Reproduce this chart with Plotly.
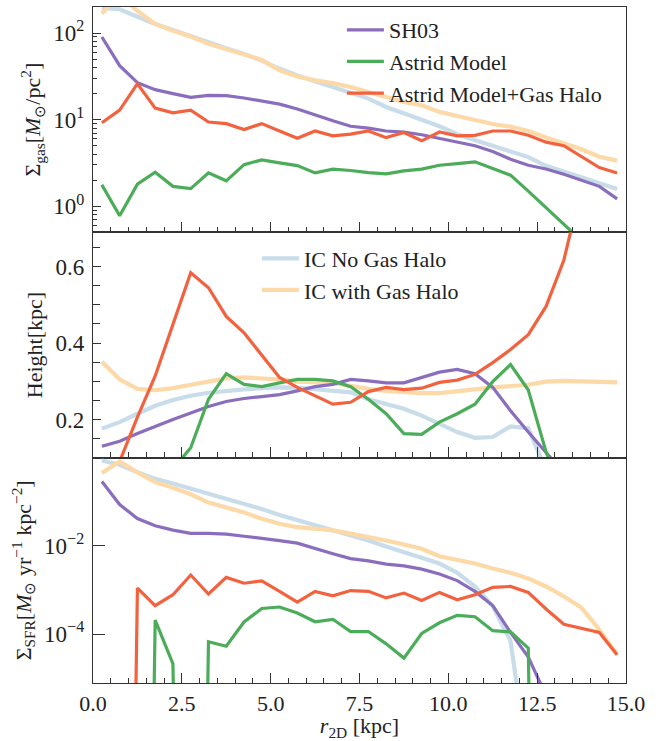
import plotly.graph_objects as go
from plotly.subplots import make_subplots

# ---------------- data ----------------
r2d = [0.25, 0.75, 1.25, 1.75, 2.25, 2.75, 3.25, 3.75, 4.25, 4.75,
       5.25, 5.75, 6.25, 6.75, 7.25, 7.75, 8.25, 8.75, 9.25, 9.75,
       10.25, 10.75, 11.25, 11.75, 12.25, 12.75, 13.25, 13.75, 14.25, 14.75]

# Sigma_gas [Msun/pc^2]
gas_sh03 = [90, 42, 26.7, 22.2, 20, 18.1, 19.1, 18.9, 17.8, 16.4, 15.1, 13.3, 11.3, 9.7,
            8.4, 8.0, 7.4, 7.2, 6.7, 6.1, 5.5, 5.0, 4.3, 3.5, 2.98, 2.7, 2.35, 2.0, 1.7, 1.22]
gas_astrid = [1.77, 0.78, 1.8, 2.48, 1.7, 1.6, 2.43, 1.97, 3.03, 3.43, 3.17, 2.95, 2.43, 2.69,
              2.59, 2.45, 2.37, 2.57, 2.69, 2.98, 3.11, 3.26, 2.73, 2.29, 1.5, 0.97, 0.62, 0.4, 0.3, 0.2]
gas_astrid_halo = [9.2, 12.9, 26, 13.6, 12, 12.9, 9.4, 9.0, 7.7, 9.0, 7.4, 6.1, 7.4, 6.5,
                   6.8, 7.4, 6.2, 7.1, 5.7, 7.2, 6.5, 6.6, 7.4, 7.4, 6.6, 5.5, 5.0, 3.7, 2.8, 2.43]
gas_ic_nohalo = [195, 188, 154, 127, 108, 93, 78, 66.5, 57.4, 48, 38.6, 32.4, 27.8, 23.4,
                 20.5, 17.5, 14, 12, 10, 8.4, 6.8, 5.8, 5.0, 4.3, 3.7, 2.93, 2.5, 2.17, 1.85, 1.58]
gas_ic_halo = [168, 270, 180, 127, 106, 91, 75, 65.6, 57, 49, 37, 31.5, 28.4, 26.4,
               23.8, 20.8, 18.6, 16, 14.7, 12.3, 11, 9.9, 8.9, 8.3, 7.4, 6.25, 5.4, 4.55, 3.74, 3.37]

# Height [kpc]
h_sh03 = [0.130, 0.143, 0.163, 0.182, 0.200, 0.217, 0.234, 0.247, 0.255, 0.260, 0.265, 0.275, 0.286, 0.292,
          0.305, 0.301, 0.296, 0.296, 0.310, 0.324, 0.331, 0.320, 0.284, 0.223, 0.167, 0.111, 0.06, 0.05, 0.04, 0.03]
h_astrid = [0, 0, 0, 0, 0.07, 0.126, 0.253, 0.320, 0.292, 0.286, 0.296, 0.305, 0.305, 0.301,
            0.286, 0.253, 0.215, 0.163, 0.161, 0.193, 0.215, 0.240, 0.299, 0.344, 0.277, 0.115, 0, 0, 0, 0]
h_astrid_halo = [0.05, 0.09, 0.206, 0.314, 0.449, 0.584, 0.545, 0.470, 0.427, 0.370, 0.310, 0.284, 0.262, 0.240,
                 0.245, 0.273, 0.284, 0.278, 0.282, 0.297, 0.303, 0.318, 0.349, 0.383, 0.422, 0.496, 0.617, 0.80, 1.0, 1.2]
h_ic_nohalo = [0.176, 0.193, 0.215, 0.236, 0.251, 0.262, 0.270, 0.275, 0.279, 0.282, 0.284, 0.283, 0.279, 0.273,
               0.271, 0.253, 0.240, 0.228, 0.210, 0.189, 0.167, 0.152, 0.154, 0.182, 0.177, 0.067, 0.06, 0.05, 0.05, 0.05]
h_ic_halo = [0.351, 0.305, 0.280, 0.277, 0.282, 0.291, 0.299, 0.308, 0.310, 0.308, 0.305, 0.299, 0.297, 0.296,
             0.288, 0.280, 0.275, 0.271, 0.269, 0.269, 0.273, 0.279, 0.284, 0.287, 0.291, 0.299, 0.301, 0.300, 0.299, 0.297]

# Sigma_SFR [Msun/yr/kpc^2]  (0 = no star formation)
sfr_sh03 = [0.288, 0.0865, 0.0415, 0.0285, 0.0228, 0.0192, 0.0192, 0.0185, 0.0165, 0.0149, 0.0132, 0.0115, 0.00858, 0.00662,
            0.00513, 0.00456, 0.00385, 0.00352, 0.00297, 0.0023, 0.00163, 0.000927, 0.000444, 0.000109, 3.0e-5, 4e-6, 0, 0, 0, 0]
sfr_astrid = [0, 0, 0, 2.08e-4, 2.1e-5, 0, 6.7e-5, 5.3e-5, 1.88e-4, 3.8e-4, 4.1e-4, 3.0e-4, 1.9e-4, 2.16e-4,
              1.14e-4, 1.14e-4, 6.0e-5, 2.85e-5, 1.03e-4, 1.8e-4, 2.65e-4, 2.47e-4, 1.19e-4, 1.12e-4, 4.8e-5, 0, 0, 0, 0, 0]
sfr_astrid_halo = [0, 0, 0.0011, 4.4e-4, 7.8e-4, 0.00218, 8.1e-4, 0.00193, 0.00142, 0.0016, 9.3e-4, 5.3e-4, 9.3e-4, 7.4e-4,
                   9.7e-4, 9.3e-4, 6.6e-4, 8.5e-4, 5.8e-4, 8.8e-4, 6.0e-4, 7.8e-4, 0.00115, 0.0012, 8.8e-4, 3.7e-4, 1.67e-4, 1.33e-4, 1.09e-4, 3.4e-5]
sfr_ic_nohalo = [0.861, 0.69, 0.465, 0.33, 0.26, 0.201, 0.148, 0.114, 0.0883, 0.0684, 0.0502, 0.0388, 0.030, 0.0224,
                 0.0176, 0.0132, 0.0097, 0.00723, 0.0056, 0.00397, 0.00246, 0.0012, 0.000428, 7e-5, 1e-7, 0, 0, 0, 0, 0]
sfr_ic_halo = [0.449, 0.818, 0.465, 0.278, 0.207, 0.148, 0.096, 0.0743, 0.0574, 0.041, 0.0316, 0.0265, 0.0244, 0.0224,
               0.019, 0.0162, 0.0132, 0.0107, 0.00858, 0.0058, 0.00488, 0.00397, 0.00307, 0.00246, 0.00183, 0.0012, 0.000716, 0.000393, 0.000125, 3.4e-5]

# ---------------- styling ----------------
FONT = "Liberation Serif"
C_SH03 = "#8a6dbd"
C_ASTRID = "#4bad5a"
C_HALO = "#f3623f"
C_ICN = "#c8dcea"
C_ICH = "#fdd9a8"
AXC = "#333333"


def clip_log(vals):
    # emulate matplotlib's clipping of non-positive values on a log axis
    return [v if v > 0 else 1e-30 for v in vals]


series = [
    ("IC No Gas Halo", C_ICN, 4.2, gas_ic_nohalo, h_ic_nohalo, sfr_ic_nohalo, "legend2"),
    ("IC with Gas Halo", C_ICH, 4.2, gas_ic_halo, h_ic_halo, sfr_ic_halo, "legend2"),
    ("SH03", C_SH03, 3.2, gas_sh03, h_sh03, sfr_sh03, "legend"),
    ("Astrid Model", C_ASTRID, 3.2, gas_astrid, h_astrid, sfr_astrid, "legend"),
    ("Astrid Model+Gas Halo", C_HALO, 3.2, gas_astrid_halo, h_astrid_halo, sfr_astrid_halo, "legend"),
]

fig = make_subplots(rows=3, cols=1, shared_xaxes=True, vertical_spacing=0)

for name, color, width, g, h, s, leg in series:
    fig.add_trace(go.Scatter(x=r2d, y=g, mode="lines", name=name,
                             line=dict(color=color, width=width),
                             legend=leg, showlegend=(leg == "legend")), row=1, col=1)
    fig.add_trace(go.Scatter(x=r2d, y=h, mode="lines", name=name,
                             line=dict(color=color, width=width),
                             legend=leg, showlegend=(leg == "legend2")), row=2, col=1)
    fig.add_trace(go.Scatter(x=r2d, y=clip_log(s), mode="lines", name=name,
                             line=dict(color=color, width=width),
                             legend=leg, showlegend=False), row=3, col=1)

tickfont = dict(family=FONT, size=23, color="#222222")
xtickfont = dict(family=FONT, size=22, color="#222222")
titlefont = dict(family=FONT, size=22, color="#222222")

common_axis = dict(showline=True, mirror=True, linecolor=AXC, linewidth=1.4,
                   ticks="inside", tickcolor=AXC, tickwidth=1.2, showgrid=False,
                   zeroline=False)

# x axes
for i in (1, 2, 3):
    fig.update_xaxes(range=[0, 15], tick0=0, dtick=2.5, tickformat=".1f", ticklen=10,
                     tickfont=xtickfont,
                     minor=dict(ticks="inside", dtick=0.5, tick0=0, ticklen=5,
                                tickcolor=AXC, tickwidth=1.0, showgrid=False),
                     showticklabels=(i == 3), row=i, col=1, **common_axis)
fig.update_xaxes(title=dict(text="<i>r</i><sub>2D</sub> [kpc]", font=titlefont, standoff=4),
                 row=3, col=1)

# top: Sigma_gas (log)
decades_top = [1, 10, 100]
minor_top = [m * d for d in [0.1, 1, 10, 100] for m in range(2, 10)]
fig.update_yaxes(type="log", range=[-0.3, 2.3], tickmode="array",
                 tickvals=decades_top,
                 ticktext=["10<sup>0</sup>", "10<sup>1</sup>", "10<sup>2</sup>"],
                 ticklen=8, ticklabelstandoff=3, tickfont=tickfont,
                 minor=dict(ticks="inside", tickmode="array", tickvals=minor_top,
                            ticklen=4, tickcolor=AXC, tickwidth=1.0, showgrid=False),
                 title=dict(text="Σ<sub>gas</sub>[<i>M</i><sub>⊙</sub>/pc<sup>2</sup>]",
                            font=titlefont, standoff=6),
                 row=1, col=1, **common_axis)

# middle: height (linear)
fig.update_yaxes(range=[0.1, 0.69], tickmode="array", tickvals=[0.2, 0.4, 0.6],
                 ticktext=["0.2", "0.4", "0.6"], ticklen=8, ticklabelstandoff=3,
                 tickfont=tickfont,
                 minor=dict(ticks="inside", dtick=0.05, tick0=0, ticklen=7,
                            tickcolor=AXC, tickwidth=1.0, showgrid=False),
                 title=dict(text="Height[kpc]", font=titlefont, standoff=6),
                 row=2, col=1, **common_axis)

# bottom: Sigma_SFR (log)
fig.update_yaxes(type="log", range=[-5.11, 0.0], tickmode="array",
                 tickvals=[1e-4, 1e-2], ticktext=["10<sup>−4</sup>", "10<sup>−2</sup>"],
                 ticklen=12, ticklabelstandoff=3, tickfont=tickfont,
                 title=dict(text="Σ<sub>SFR</sub>[<i>M</i><sub>⊙</sub> yr<sup>−1</sup> kpc<sup>−2</sup>]",
                            font=titlefont, standoff=6),
                 row=3, col=1, **common_axis)

fig.update_layout(
    width=660, height=741,
    margin=dict(l=93, r=34, t=6, b=53),
    paper_bgcolor="white", plot_bgcolor="white",
    font=dict(family=FONT, size=22, color="#222222"),
    legend=dict(x=0.467, y=0.997, xanchor="left", yanchor="top",
                bgcolor="rgba(0,0,0,0)", font=dict(family=FONT, size=22, color="#222222"),
                tracegroupgap=0, itemwidth=37),
    legend2=dict(x=0.3075, y=0.659, xanchor="left", yanchor="top",
                 bgcolor="rgba(0,0,0,0)", font=dict(family=FONT, size=22, color="#222222"),
                 tracegroupgap=0, itemwidth=37),
)

fig.write_html("out.html")
